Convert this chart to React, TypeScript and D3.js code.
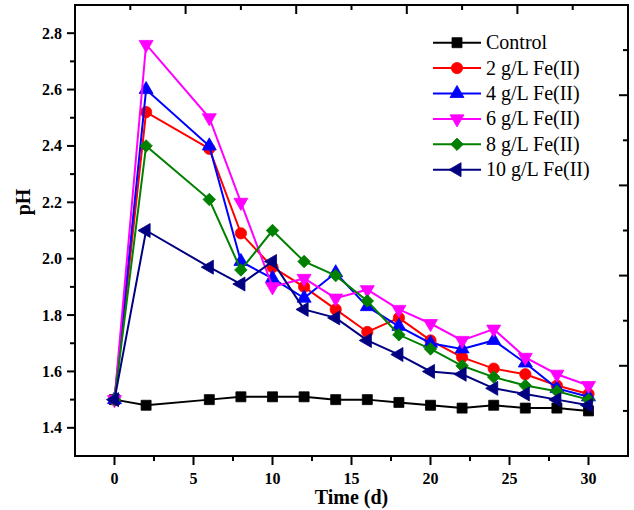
import React from 'react';
import * as d3 from 'd3';

// days sampled
const days = [0, 2, 6, 8, 10, 12, 14, 16, 18, 20, 22, 24, 26, 28, 30];

// pH readings per treatment
const control = [1.50, 1.48, 1.50, 1.51, 1.51, 1.51, 1.50, 1.50, 1.49, 1.48, 1.47, 1.48, 1.47, 1.47, 1.46];
const fe2 = [1.50, 2.52, 2.39, 2.09, 1.97, 1.90, 1.82, 1.74, 1.79, 1.71, 1.65, 1.61, 1.59, 1.55, 1.52];
const fe4 = [1.50, 2.60, 2.40, 1.99, 1.93, 1.86, 1.95, 1.83, 1.76, 1.70, 1.68, 1.71, 1.63, 1.54, 1.51];
const fe6 = [1.50, 2.76, 2.50, 2.20, 1.90, 1.93, 1.86, 1.89, 1.82, 1.77, 1.71, 1.75, 1.65, 1.59, 1.55];
const fe8 = [1.50, 2.40, 2.21, 1.96, 2.10, 1.99, 1.94, 1.85, 1.73, 1.68, 1.62, 1.58, 1.55, 1.53, 1.50];
const fe10 = [1.50, 2.10, 1.97, 1.91, 1.99, 1.82, 1.79, 1.71, 1.66, 1.60, 1.59, 1.54, 1.52, 1.50, 1.48];

const seriesNames = ['Control', '2 g/L Fe(II)', '4 g/L Fe(II)', '6 g/L Fe(II)', '8 g/L Fe(II)', '10 g/L Fe(II)'];
const seriesValues = [control, fe2, fe4, fe6, fe8, fe10];
const seriesColors = ['#000000', '#ff0000', '#0000ff', '#ff00ff', '#008000', '#000080'];
const seriesMarkers = ['square', 'circle', 'up', 'down', 'diamond', 'left'];

const yMajor = [1.4, 1.6, 1.8, 2.0, 2.2, 2.4, 2.6, 2.8];
const yMinor = [1.5, 1.7, 1.9, 2.1, 2.3, 2.5, 2.7];
const xMajor = [0, 5, 10, 15, 20, 25, 30];
const xMinor = [2.5, 7.5, 12.5, 17.5, 22.5, 27.5];

const W = 634, H = 510;
const left = 75, right = 628, top = 5, bottom = 456;
const font = '"Liberation Serif", "Times New Roman", serif';

function markerPath(kind: string) {
  if (kind === 'square') return { d: d3.symbol(d3.symbolSquare, 100)(), rot: 0 };
  if (kind === 'circle') return { d: d3.symbol(d3.symbolCircle, 100)(), rot: 0 };
  if (kind === 'diamond') return { d: d3.symbol(d3.symbolSquare, 78)(), rot: 45 };
  const d = d3.symbol(d3.symbolTriangle, 85)();
  if (kind === 'down') return { d, rot: 180 };
  if (kind === 'left') return { d, rot: -90 };
  return { d, rot: 0 };
}

function Marker({ kind, x, y, color }: { kind: string; x: number; y: number; color: string }) {
  const m = markerPath(kind);
  return <path d={m.d as string} transform={`translate(${x},${y}) rotate(${m.rot})`} fill={color} stroke={color} strokeWidth={0.8} />;
}

export default function App() {
  const x = d3.scaleLinear().domain([-2.5, 32.5]).range([left, right]);
  const y = d3.scaleLinear().domain([1.3, 2.9]).range([bottom, top]);

  const line = d3.line<number>()
    .x((_, i) => x(days[i]))
    .y(d => y(d));

  // top and right axes are just evenly split into 10 parts (mirror axes)
  const splits = d3.range(0, 11);

  return (
    <svg width={W} height={H} style={{ position: 'absolute', left: 0, top: 0, background: '#fff' }}>
      {/* frame */}
      <rect x={left} y={top} width={right - left} height={bottom - top} fill="none" stroke="#000" strokeWidth={2} />

      {/* left axis */}
      {yMajor.map(v => (
        <g key={'ym' + v}>
          <line x1={left - 8} x2={left} y1={y(v)} y2={y(v)} stroke="#000" strokeWidth={2} />
          <text x={62} y={y(v) + 5.5} textAnchor="end" fontFamily={font} fontWeight="bold" fontSize={16}>{v.toFixed(1)}</text>
        </g>
      ))}
      {yMinor.map(v => (
        <line key={'yn' + v} x1={left - 5} x2={left} y1={y(v)} y2={y(v)} stroke="#000" strokeWidth={2} />
      ))}

      {/* bottom axis */}
      {xMajor.map(v => (
        <g key={'xm' + v}>
          <line x1={x(v)} x2={x(v)} y1={bottom} y2={bottom + 9} stroke="#000" strokeWidth={2} />
          <text x={x(v)} y={bottom + 28} textAnchor="middle" fontFamily={font} fontWeight="bold" fontSize={16}>{v}</text>
        </g>
      ))}
      {xMinor.map(v => (
        <line key={'xn' + v} x1={x(v)} x2={x(v)} y1={bottom} y2={bottom + 5} stroke="#000" strokeWidth={2} />
      ))}

      {/* top + right mirror ticks */}
      {splits.slice(1, 10).map(i => {
        const px = left + (right - left) * i / 10;
        const py = bottom - (bottom - top) * i / 10;
        const len = i % 2 === 0 ? 9 : 5;
        return (
          <g key={'s' + i}>
            <line x1={px} x2={px} y1={top} y2={top + len} stroke="#000" strokeWidth={2} />
            <line x1={right - len} x2={right} y1={py} y2={py} stroke="#000" strokeWidth={2} />
          </g>
        );
      })}

      {/* axis titles */}
      <text x={(left + right) / 2} y={504} textAnchor="middle" fontFamily={font} fontWeight="bold" fontSize={20}>Time (d)</text>
      <text transform={`translate(30,202) rotate(-90)`} textAnchor="middle" fontFamily={font} fontWeight="bold" fontSize={20}>pH</text>

      {/* series */}
      {seriesValues.map((vals, s) => (
        <g key={'ser' + s}>
          <path d={line(vals) as string} fill="none" stroke={seriesColors[s]} strokeWidth={2} />
          {vals.map((v, i) => (
            <Marker key={i} kind={seriesMarkers[s]} x={x(days[i])} y={y(v)} color={seriesColors[s]} />
          ))}
        </g>
      ))}

      {/* legend */}
      {seriesNames.map((name, s) => {
        const ly = 42.7 + s * 25.4;
        return (
          <g key={'lg' + s}>
            <line x1={433} x2={481} y1={ly} y2={ly} stroke={seriesColors[s]} strokeWidth={2} />
            <Marker kind={seriesMarkers[s]} x={457} y={ly} color={seriesColors[s]} />
            <text x={486} y={ly + 6.5} fontFamily={font} fontSize={20}>{name}</text>
          </g>
        );
      })}
    </svg>
  );
}
